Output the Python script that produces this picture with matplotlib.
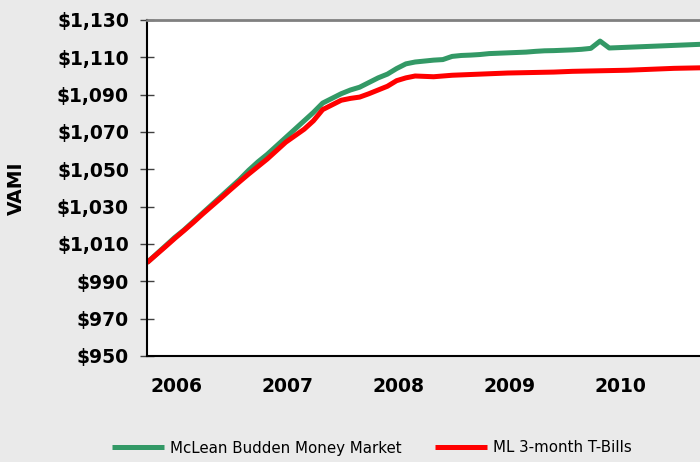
import matplotlib
matplotlib.use('Agg')
import matplotlib.pyplot as plt

# monthly VAMI values, starting at $1,000
mclean = [1000, 1004.5, 1009, 1013.5, 1017.5, 1022, 1026.5, 1031, 1035.5, 1040,
          1044.5, 1049.5, 1054, 1058, 1062.5, 1067, 1071.5, 1076, 1080.5, 1085.5,
          1088, 1090.5, 1092.5, 1094, 1096.5, 1099, 1101, 1104, 1106.5, 1107.5,
          1108, 1108.5, 1108.8, 1110.5, 1111, 1111.2, 1111.5, 1112, 1112.2, 1112.4,
          1112.6, 1112.8, 1113.2, 1113.5, 1113.6, 1113.8, 1114, 1114.3, 1114.8, 1118.7,
          1115, 1115.2, 1115.4, 1115.6, 1115.8, 1116, 1116.2, 1116.4, 1116.6, 1116.8,
          1117]
tbills = [1000, 1004.3, 1008.6, 1013, 1017.2, 1021.5, 1026, 1030.3, 1034.6, 1039,
          1043.3, 1047.5, 1051.5, 1055.5, 1060, 1064.5, 1068, 1071.5, 1076, 1082,
          1084.5, 1087, 1088, 1088.7, 1090.5, 1092.5, 1094.5, 1097.5, 1099, 1100,
          1099.8, 1099.6, 1100, 1100.4, 1100.6, 1100.8, 1101, 1101.2, 1101.4, 1101.6,
          1101.7, 1101.8, 1101.9, 1102, 1102.1, 1102.3, 1102.5, 1102.6, 1102.7, 1102.8,
          1102.9, 1103, 1103.1, 1103.3, 1103.5, 1103.7, 1103.9, 1104.1, 1104.2, 1104.3,
          1104.4]
years = ['2006', '2007', '2008', '2009', '2010']
yticks = list(range(950, 1131, 20))

months = list(range(len(mclean)))

fig = plt.figure(figsize=(7, 4.62), dpi=100)
fig.patch.set_facecolor('#eaeaea')
ax = fig.add_axes([147/700, 106/462, (711-147)/700, 336/462])
ax.set_facecolor('white')

l1, = ax.plot(months, mclean, color='#339966', linewidth=3.6,
              label='McLean Budden Money Market', solid_capstyle='butt')
l2, = ax.plot(months, tbills, color='#ff0000', linewidth=3.6,
              label='ML 3-month T-Bills', solid_capstyle='butt')

ax.set_xlim(0, 61)
ax.set_ylim(950, 1130)
ax.set_yticks(yticks)
ax.set_yticklabels([f'${v:,}' for v in yticks], fontsize=13.5, fontweight='bold')
ax.set_xticks([3.2 + 12 * k for k in range(len(years))])
ax.set_xticklabels(years, fontsize=13.5, fontweight='bold')
ax.tick_params(axis='x', length=0, pad=15)
ax.tick_params(axis='y', direction='inout', length=10, width=1, color='#404040', pad=8)

ax.spines['left'].set_linewidth(1.5)
ax.spines['bottom'].set_linewidth(1.5)
ax.spines['top'].set_color('#808080')
ax.spines['top'].set_linewidth(2)
ax.spines['right'].set_visible(False)

fig.text(16/700, 1 - 188/462, 'VAMI', rotation=90, fontsize=13.5, fontweight='bold',
         ha='center', va='center')

fig.legend(handles=[l1, l2], loc='center', bbox_to_anchor=(372/700, 1 - 448/462),
           ncol=2, frameon=False, fontsize=10.8, handlelength=3.5,
           handletextpad=0.4, columnspacing=2.2)

fig.savefig('out.png', dpi=100, facecolor=fig.get_facecolor())
